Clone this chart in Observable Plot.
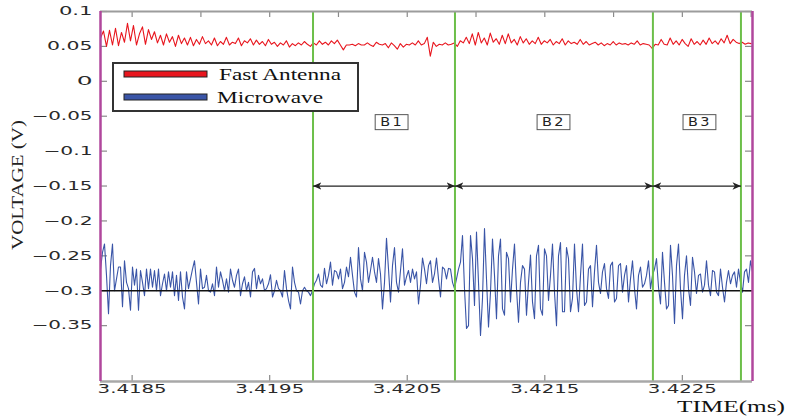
<!DOCTYPE html>
<html><head><meta charset="utf-8">
<script src="https://cdn.jsdelivr.net/npm/d3@7"></script>
<script src="https://cdn.jsdelivr.net/npm/@observablehq/plot@0.6"></script>
<style>
html,body{margin:0;padding:0;background:#fff;}
#chart{width:789px;height:416px;overflow:hidden;}
g[aria-label="x-axis tick label"] text, g[aria-label="y-axis tick label"] text{
  font-family:"DejaVu Sans";font-size:12px;fill:#2a2a2a;font-variant-numeric:normal;}
</style></head><body><div id="chart"></div>
<script>
// ---- data ----
const timeStart = 3.41827;
const fastAntennaEnd = 3.423;
const microwaveEnd = 3.42301;
const fastAntenna = [
0.062,0.072,0.050,0.073,0.052,0.076,0.051,0.070,0.056,0.083,
0.058,0.080,0.052,0.068,0.078,0.053,0.074,0.060,0.071,0.055,
0.066,0.052,0.068,0.056,0.064,0.050,0.066,0.054,0.062,0.052,
0.063,0.051,0.060,0.053,0.064,0.054,0.058,0.052,0.062,0.051,
0.057,0.053,0.063,0.052,0.056,0.054,0.062,0.051,0.058,0.055,
0.061,0.052,0.059,0.053,0.057,0.051,0.060,0.053,0.056,0.050,
0.055,0.052,0.058,0.049,0.054,0.051,0.055,0.052,0.057,0.053,
0.050,0.055,0.052,0.058,0.053,0.056,0.052,0.058,0.054,0.059,
0.052,0.045,0.052,0.052,0.053,0.051,0.054,0.052,0.052,0.055,
0.052,0.050,0.056,0.053,0.052,0.054,0.048,0.055,0.051,0.046,
0.054,0.049,0.053,0.052,0.055,0.052,0.058,0.052,0.054,0.063,
0.036,0.056,0.050,0.053,0.052,0.055,0.052,0.053,0.055,0.050,
0.058,0.055,0.063,0.054,0.068,0.052,0.070,0.055,0.062,0.052,
0.069,0.056,0.061,0.053,0.066,0.054,0.068,0.055,0.060,0.052,
0.064,0.055,0.061,0.053,0.058,0.054,0.063,0.053,0.058,0.055,
0.060,0.052,0.057,0.054,0.061,0.052,0.058,0.054,0.056,0.053,
0.060,0.053,0.057,0.052,0.054,0.056,0.052,0.055,0.051,0.054,
0.052,0.057,0.052,0.055,0.053,0.054,0.052,0.055,0.053,0.058,
0.052,0.054,0.053,0.052,0.047,0.053,0.052,0.060,0.053,0.052,
0.062,0.053,0.058,0.052,0.060,0.054,0.050,0.061,0.053,0.057,
0.052,0.059,0.053,0.062,0.054,0.058,0.053,0.061,0.055,0.066,
0.054,0.060,0.056,0.054,0.056,0.053,0.055,0.054];
const microwave = [
-0.269,-0.245,-0.233,-0.278,-0.333,-0.264,-0.233,-0.300,-0.283,-0.266,
-0.266,-0.323,-0.257,-0.288,-0.297,-0.328,-0.266,-0.292,-0.269,-0.328,
-0.271,-0.288,-0.307,-0.269,-0.297,-0.269,-0.295,-0.271,-0.300,-0.269,
-0.307,-0.290,-0.276,-0.300,-0.273,-0.295,-0.273,-0.307,-0.278,-0.314,
-0.273,-0.309,-0.326,-0.273,-0.297,-0.283,-0.269,-0.257,-0.288,-0.319,
-0.269,-0.297,-0.295,-0.278,-0.300,-0.302,-0.290,-0.307,-0.266,-0.295,
-0.273,-0.285,-0.300,-0.283,-0.302,-0.269,-0.285,
-0.295,-0.278,-0.269,-0.307,-0.290,-0.280,-0.300,-0.288,-0.309,-0.273,
-0.268,-0.297,-0.278,-0.290,-0.283,-0.300,-0.297,-0.290,-0.277,-0.309,
-0.300,-0.285,-0.297,-0.300,-0.309,-0.271,-0.297,-0.314,-0.326,-0.266,
-0.288,-0.300,-0.302,-0.319,-0.300,-0.295,-0.300,-0.302,-0.307,-0.300,
-0.290,-0.285,-0.276,-0.292,-0.295,-0.268,-0.290,-0.278,-0.259,-0.292,
-0.271,-0.273,-0.283,-0.269,-0.297,-0.288,-0.266,-0.280,-0.252,-0.278,
-0.302,-0.309,-0.238,-0.283,-0.300,
-0.245,-0.259,-0.288,-0.271,-0.252,-0.273,-0.288,-0.254,-0.276,-0.326,
-0.288,-0.225,-0.269,-0.316,-0.264,-0.238,-0.288,-0.302,-0.271,-0.240,
-0.292,-0.280,-0.271,-0.288,-0.269,-0.283,-0.273,-0.319,-0.292,-0.253,
-0.269,-0.290,-0.264,-0.257,-0.288,-0.276,-0.253,-0.283,-0.309,-0.266,
-0.269,-0.283,-0.268,-0.269,-0.288,-0.297,-0.283,-0.269,-0.259,-0.221,
-0.297,-0.354,-0.350,-0.221,-0.254,-0.321,-0.216,-0.288,-0.364,-0.311,
-0.211,-0.283,-0.352,-0.302,-0.226,-0.278,
-0.340,-0.250,-0.226,-0.326,-0.335,-0.245,-0.254,-0.316,-0.269,-0.233,
-0.297,-0.345,-0.288,-0.264,-0.269,-0.335,-0.288,-0.249,-0.316,-0.340,
-0.250,-0.235,-0.326,-0.335,-0.240,-0.250,-0.314,-0.278,-0.233,-0.302,
-0.350,-0.250,-0.231,-0.330,-0.330,-0.238,-0.254,-0.330,-0.311,-0.233,
-0.297,-0.330,-0.278,-0.233,-0.321,-0.316,-0.269,-0.264,-0.323,-0.273,
-0.235,-0.288,-0.304,-0.273,-0.261,-0.297,-0.311,-0.264,-0.259,-0.316,
-0.311,-0.264,-0.261,-0.302,-0.278,-0.264,-0.316,
-0.283,-0.257,-0.297,-0.326,-0.278,-0.266,-0.295,-0.290,-0.278,-0.257,
-0.297,-0.278,-0.269,-0.254,-0.295,-0.319,-0.245,-0.288,-0.326,-0.321,
-0.235,-0.278,-0.347,-0.264,-0.233,-0.297,-0.340,-0.278,-0.250,-0.297,
-0.321,-0.252,-0.273,-0.304,-0.278,-0.276,-0.302,-0.292,-0.257,-0.292,
-0.307,-0.271,-0.273,-0.302,-0.307,-0.269,-0.295,-0.316,-0.288,-0.271,
-0.290,-0.278,-0.273,-0.295,-0.269,-0.288,-0.302,-0.273,-0.269,-0.288,
-0.257,-0.273];
const xDomain = [3.41827, 3.42301];
const yDomain = [-0.43, 0.1];
const xTickValues = [3.4185, 3.4195, 3.4205, 3.4215, 3.4225];
const xTickLabels = ["3.4185", "3.4195", "3.4205", "3.4215", "3.4225"];
const xTopTicks = [3.4185, 3.419, 3.4195, 3.42, 3.4205, 3.421, 3.4215, 3.422, 3.4225, 3.423];
const yTickValues = [0.1, 0.05, 0, -0.05, -0.1, -0.15, -0.2, -0.25, -0.3, -0.35];
const yTickLabels = ["0.1", "0.05", "0", "\u22120.05", "\u22120.1", "\u22120.15", "\u22120.2", "\u22120.25", "\u22120.3", "\u22120.35"];
const boundaryTimes = [3.419815, 3.420847, 3.422286, 3.422926];
const segmentNames = ["B1", "B2", "B3"];
const segmentLabelTimes = [3.42039, 3.421567, 3.422628];
const segmentLabelVoltage = -0.058;
const arrowVoltage = -0.15;
const baselineVoltage = -0.3;
const seriesNames = ["Fast Antenna", "Microwave"];
const seriesColors = ["#e8161e", "#3a55a7"];
const xLabel = "TIME(ms)";
const yLabel = "VOLTAGE (V)";

// ---- build ----
function toRows(values, tEnd) {
  const n = values.length;
  return values.map((v, i) => ({t: timeStart + (tEnd - timeStart) * i / (n - 1), v}));
}
const fastRows = toRows(fastAntenna, fastAntennaEnd);
const microRows = toRows(microwave, microwaveEnd);
const segments = segmentNames.map((name, i) => ({name, t1: boundaryTimes[i], t2: boundaryTimes[i + 1]}));

const W = 789, H = 416, mL = 100, mR = 37, mT = 11, mB = 35;
const innerW = W - mL - mR, innerH = H - mT - mB;
const tickColor = "#8a8a8a";

const chart = Plot.plot({
  width: W, height: H,
  marginLeft: mL, marginRight: mR, marginTop: mT, marginBottom: mB,
  style: {background: "white", fontFamily: "DejaVu Sans", overflow: "visible"},
  x: {domain: xDomain},
  y: {domain: yDomain},
  marks: [
    Plot.axisX(xTickValues, {tickSize: 0, tickPadding: 3, label: null,
      tickFormat: d => xTickLabels[xTickValues.indexOf(d)]}),
    Plot.axisY(yTickValues, {tickSize: 0, tickPadding: 8, label: null,
      tickFormat: d => yTickLabels[yTickValues.indexOf(d)]}),
    Plot.ruleX(xTickValues, {stroke: tickColor, strokeWidth: 1.2, insetTop: innerH - 6}),
    Plot.ruleX(xTopTicks, {stroke: tickColor, strokeWidth: 1.2, insetBottom: innerH - 6}),
    Plot.ruleY(yTickValues, {stroke: tickColor, strokeWidth: 1.2, insetRight: innerW - 7}),
    Plot.ruleY(yTickValues, {stroke: tickColor, strokeWidth: 1.2, insetLeft: innerW - 7}),
    Plot.line(fastRows, {x: "t", y: "v", stroke: seriesColors[0], strokeWidth: 1.1}),
    Plot.line(microRows, {x: "t", y: "v", stroke: seriesColors[1], strokeWidth: 1.1}),
    Plot.ruleY([baselineVoltage], {stroke: "#111", strokeWidth: 1.3}),
    Plot.ruleX(boundaryTimes, {stroke: "#6cbf4a", strokeWidth: 2}),
    Plot.link(segments, {x1: "t1", x2: "t2", y1: () => arrowVoltage, y2: () => arrowVoltage,
      stroke: "#222", strokeWidth: 1.3, markerStart: "arrow", markerEnd: "arrow"}),
    Plot.text(segmentNames, {x: (d, i) => segmentLabelTimes[i], y: () => segmentLabelVoltage,
      text: d => d, fontSize: 12, fill: "#222"}),
    Plot.ruleY([yDomain[1]], {stroke: "#9c9c9c", strokeWidth: 2}),
    Plot.ruleY([yDomain[0]], {stroke: "#a8a8a8", strokeWidth: 2.5}),
    Plot.ruleX([xDomain[0]], {stroke: "#b0479c", strokeWidth: 2.5}),
    Plot.ruleX([xDomain[1]], {stroke: "#b0479c", strokeWidth: 2.5})
  ]
});
document.getElementById("chart").appendChild(chart);

const svg = d3.select(chart);
const svgNS = "http://www.w3.org/2000/svg";

// widen tick labels like the reference's extended face
svg.selectAll('g[aria-label="x-axis tick label"] text, g[aria-label="y-axis tick label"] text').each(function () {
  const L = this.getComputedTextLength();
  this.setAttribute("textLength", L * 1.55 + 4);
  this.setAttribute("lengthAdjust", "spacingAndGlyphs");
});

// larger, filled barbed arrow heads pointing outward at both ends
svg.selectAll("marker").each(function () {
  const m = d3.select(this);
  const color = m.attr("stroke") || "#222";
  m.attr("markerWidth", 13).attr("markerHeight", 13).attr("orient", "auto-start-reverse")
    .attr("fill", color).attr("stroke", "none");
  m.selectAll("path").attr("d", "M-5,-2.2L0,0L-5,2.2L-3.6,0Z");
});

// boxed segment labels
svg.selectAll('g[aria-label="text"] text').each(function () {
  this.setAttribute("font-family", "DejaVu Sans");
  this.style.letterSpacing = "2px";
  const L = this.getComputedTextLength();
  this.setAttribute("textLength", L * 1.2);
  this.setAttribute("lengthAdjust", "spacingAndGlyphs");
  const b = this.getBBox();
  const r = document.createElementNS(svgNS, "rect");
  r.setAttribute("x", b.x - 5);
  r.setAttribute("y", b.y);
  r.setAttribute("width", b.width + 9);
  r.setAttribute("height", b.height + 1);
  r.setAttribute("fill", "white");
  r.setAttribute("stroke", "#555");
  r.setAttribute("stroke-width", 1);
  const tr = this.getAttribute("transform");
  if (tr) r.setAttribute("transform", tr);
  this.parentNode.insertBefore(r, this);
});

// legend
const leg = svg.append("g").attr("aria-label", "legend").attr("text-anchor", "start");
leg.append("rect").attr("x", 113).attr("y", 63).attr("width", 245).attr("height", 48)
  .attr("fill", "white").attr("stroke", "#333").attr("stroke-width", 2);
const swatchY = [71, 94], textY = [80, 103], textX = [219, 217], textLen = [122, 106];
seriesNames.forEach((name, i) => {
  leg.append("rect").attr("x", 124).attr("y", swatchY[i]).attr("width", 83).attr("height", 6)
    .attr("fill", seriesColors[i]).attr("stroke", "#222").attr("stroke-width", 1);
  leg.append("text").attr("x", textX[i]).attr("y", textY[i]).text(name)
    .attr("text-anchor", "start")
    .attr("font-family", "Liberation Serif").attr("font-size", 17.5).attr("fill", "#111")
    .attr("textLength", textLen[i]).attr("lengthAdjust", "spacingAndGlyphs");
});

// axis titles
svg.append("text").text(xLabel).attr("x", 785).attr("y", 412).attr("text-anchor", "end")
  .attr("font-family", "Liberation Serif").attr("font-size", 17).attr("fill", "#111")
  .attr("textLength", 108).attr("lengthAdjust", "spacingAndGlyphs");
svg.append("text").text(yLabel).attr("transform", "translate(17,185) rotate(-90)")
  .attr("text-anchor", "middle").attr("dominant-baseline", "central")
  .attr("font-family", "Liberation Serif").attr("font-size", 17).attr("fill", "#222")
  .attr("textLength", 130).attr("lengthAdjust", "spacingAndGlyphs");
</script></body></html>
